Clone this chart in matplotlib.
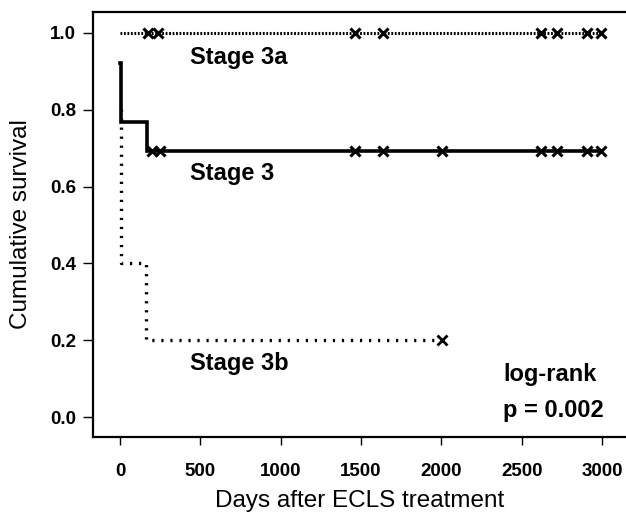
import matplotlib
matplotlib.use("Agg")
import matplotlib.pyplot as plt
import numpy as np

plt.rcParams['font.family'] = ['Liberation Sans', 'DejaVu Sans']
plt.rcParams['lines.scale_dashes'] = False

# Kaplan-Meier data (days, survival)
stage3_times = [0, 4, 8, 166]
stage3_surv = [0.923, 0.846, 0.769, 0.692]
stage3_censor = [199, 249, 1462, 1636, 2004, 2620, 2719, 2906, 2993]

stage3a_times = [0]
stage3a_surv = [1.0]
stage3a_censor = [174, 236, 1462, 1636, 2620, 2719, 2906, 2993]

stage3b_times = [0, 4, 8, 160]
stage3b_surv = [0.8, 0.6, 0.4, 0.2]
stage3b_censor = [2004]

x_ticks = [0, 500, 1000, 1500, 2000, 2500, 3000]
y_ticks = [0.0, 0.2, 0.4, 0.6, 0.8, 1.0]


def km_step(times, surv, end):
    # step curve from event times, running on to the last follow-up
    xs = list(times) + [end]
    ys = list(surv) + [surv[-1]]
    return np.array(xs), np.array(ys)


def surv_at(times, surv, t):
    idx = np.searchsorted(times, t, side='right') - 1
    return np.array(surv)[idx]


fig = plt.figure(figsize=(6.26, 5.12), dpi=100, facecolor='white')
ax = fig.add_axes([0.1486, 0.1465, 0.8514, 0.8301])

# Stage 3a (dense dots)
x, y = km_step(stage3a_times, stage3a_surv, max(stage3a_censor))
ax.step(x, y, where='post', color='black', lw=2.2, linestyle=(0, (1.3, 1.2)))
ax.plot(stage3a_censor, surv_at(stage3a_times, stage3a_surv, stage3a_censor),
        'x', color='black', ms=6.5, mew=2.2)

# Stage 3b (sparse dots)
x, y = km_step(stage3b_times, stage3b_surv, max(stage3b_censor))
ax.step(x, y, where='post', color='black', lw=2.4, linestyle=(0, (1.6, 4.9)))
ax.plot(stage3b_censor, surv_at(stage3b_times, stage3b_surv, stage3b_censor),
        'x', color='black', ms=6.5, mew=2.0)

# Stage 3 (solid)
x, y = km_step(stage3_times, stage3_surv, max(stage3_censor))
ax.step(x, y, where='post', color='black', lw=2.6, solid_joinstyle='miter')
ax.plot(stage3_censor, surv_at(stage3_times, stage3_surv, stage3_censor),
        'x', color='black', ms=6.5, mew=2.2)

lab = dict(fontsize=17, fontweight='bold', ha='left', va='center')
ax.text(436, 0.937, 'Stage 3a', **lab)
ax.text(436, 0.633, 'Stage 3', **lab)
ax.text(436, 0.14, 'Stage 3b', **lab)
ax.text(2383, 0.112, 'log-rank', **lab)
ax.text(2383, 0.018, 'p = 0.002', **lab)

ax.set_xlim(-168, 3149)
ax.set_ylim(-0.052, 1.0547)
ax.set_xticks(x_ticks)
ax.set_yticks(y_ticks)
ax.set_yticklabels([f'{v:.1f}' for v in y_ticks])
ax.tick_params(axis='x', length=6, width=1, pad=13, labelsize=13.5)
ax.tick_params(axis='y', length=7, width=1, pad=5, labelsize=13.5)
for lbl in ax.get_xticklabels() + ax.get_yticklabels():
    lbl.set_fontweight('bold')

ax.spines['right'].set_visible(False)
for s in ['left', 'top', 'bottom']:
    ax.spines[s].set_linewidth(1.6)

ax.set_xlabel('Days after ECLS treatment', fontsize=17.5, labelpad=7)
ax.set_ylabel('Cumulative survival', fontsize=17.5, labelpad=13)

fig.savefig('out.png', dpi=100, facecolor='white')
